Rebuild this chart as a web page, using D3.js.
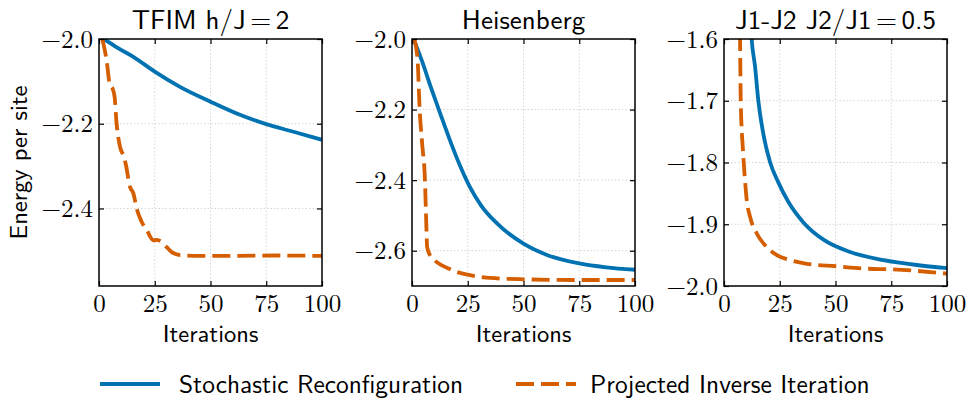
<!DOCTYPE html>
<html><head><meta charset="utf-8">
<script src="https://cdn.jsdelivr.net/npm/d3@7"></script>
<style>body{margin:0;background:#fff}svg{display:block}</style>
</head><body><svg id="c" width="969" height="398"></svg>
<script>
// ---- data ----
const titles = ["TFIM h/J\u2006=\u20062", "Heisenberg", "J1-J2 J2/J1\u2006=\u20060.5"];
const seriesNames = ["Stochastic Reconfiguration", "Projected Inverse Iteration"];
const xTicks = [0, 25, 50, 75, 100];
const yDomains = [[-2.583, -2.0], [-2.70, -2.0], [-2.0, -1.6]];
const yTicks = [[-2.0, -2.2, -2.4], [-2.0, -2.2, -2.4, -2.6], [-1.6, -1.7, -1.8, -1.9, -2.0]];

const tfimSrIter = [0, 4, 8, 15.4, 25, 36.3, 50, 63.2, 75, 87.2, 100];
const tfimSrE = [-1.994, -2.006, -2.02, -2.042, -2.077, -2.113, -2.148, -2.179, -2.201, -2.219, -2.238];
const tfimPiiIter = [1.5, 3.4, 4.9, 6, 7, 7.9, 9.4, 11.2, 12.1, 13.9, 15.4, 16.9, 19, 21.4, 24.4, 26, 28.1, 30.5, 32.6, 36.3, 45, 60, 80, 100];
const tfimPiiE = [-2.0, -2.05, -2.109, -2.116, -2.137, -2.2, -2.254, -2.278, -2.298, -2.349, -2.364, -2.40, -2.43, -2.451, -2.475, -2.474, -2.479, -2.492, -2.503, -2.51, -2.512, -2.512, -2.511, -2.512];

const heisSrIter = [0.7, 4.5, 8.2, 12.7, 17.2, 21.6, 26, 31, 38, 50, 60.5, 75, 87, 100];
const heisSrE = [-2.0, -2.063, -2.132, -2.212, -2.29, -2.36, -2.42, -2.472, -2.522, -2.58, -2.612, -2.636, -2.647, -2.654];
const heisPiiIter = [1, 2.5, 3.4, 4.6, 5.8, 6.3, 6.8, 8, 10, 13, 17, 20, 25, 35, 50, 75, 100];
const heisPiiE = [-2.0, -2.059, -2.196, -2.3, -2.4, -2.5, -2.59, -2.612, -2.627, -2.64, -2.652, -2.66, -2.668, -2.677, -2.681, -2.683, -2.683];

const j1j2SrIter = [11.6, 12.4, 13.9, 15.4, 17.6, 20.7, 24.2, 28.9, 35.6, 44.6, 56.6, 71.5, 86.5, 100];
const j1j2SrE = [-1.55, -1.6, -1.644, -1.7, -1.753, -1.8, -1.831, -1.864, -1.897, -1.925, -1.945, -1.958, -1.966, -1.971];
const j1j2PiiIter = [7, 7.2, 7.5, 8.5, 9.4, 10.2, 11.7, 14.7, 18.4, 23.7, 29.6, 37.1, 50.2, 64.1, 75.3, 100];
const j1j2PiiE = [-1.55, -1.6, -1.7, -1.78, -1.828, -1.861, -1.888, -1.915, -1.934, -1.95, -1.958, -1.964, -1.968, -1.972, -1.973, -1.98];

const srData = [[tfimSrIter, tfimSrE], [heisSrIter, heisSrE], [j1j2SrIter, j1j2SrE]];
const piiData = [[tfimPiiIter, tfimPiiE], [heisPiiIter, heisPiiE], [j1j2PiiIter, j1j2PiiE]];

// ---- style / layout ----
const BLUE = "#0072B2", ORANGE = "#D55E00";
const W = 223, H = 247, TOP = 39;
const lefts = [99, 412, 724];
const serifFont = '"Latin Modern Roman", "Liberation Serif", serif';
const sansFont = '"Latin Modern Sans", "Liberation Sans", sans-serif';
const DASH = "18,7";

const svg = d3.select("#c");
const zip = (a, b) => a.map((v, k) => [v, b[k]]);

titles.forEach((title, i) => {
  const g = svg.append("g").attr("transform", `translate(${lefts[i]},${TOP})`);
  const x = d3.scaleLinear().domain([0, 100]).range([0, W]);
  const y = d3.scaleLinear().domain(yDomains[i]).range([H, 0]);

  // grid
  const grid = g.append("g").attr("stroke", "#d6d6d6").attr("stroke-width", 1).attr("stroke-dasharray", "1.5,2");
  grid.selectAll(".gx").data(xTicks.filter(t => t > 0 && t < 100)).join("line")
    .attr("x1", d => x(d)).attr("x2", d => x(d)).attr("y1", 0).attr("y2", H);
  const [d0, d1] = yDomains[i];
  grid.selectAll(".gy").data(yTicks[i].filter(t => t > Math.min(d0, d1) + 1e-9 && t < Math.max(d0, d1) - 1e-9)).join("line")
    .attr("y1", d => y(d)).attr("y2", d => y(d)).attr("x1", 0).attr("x2", W);

  // clip
  const cid = "clip" + i;
  g.append("clipPath").attr("id", cid).append("rect").attr("width", W).attr("height", H);
  const plot = g.append("g").attr("clip-path", `url(#${cid})`);
  const line = d3.line().x(d => x(d[0])).y(d => y(d[1])).curve(d3.curveMonotoneX);

  plot.append("path").datum(zip(...srData[i])).attr("d", line)
    .attr("fill", "none").attr("stroke", BLUE).attr("stroke-width", 3.8).attr("stroke-linejoin", "round");
  plot.append("path").datum(zip(...piiData[i])).attr("d", line)
    .attr("fill", "none").attr("stroke", ORANGE).attr("stroke-width", 3.8)
    .attr("stroke-dasharray", DASH).attr("stroke-linejoin", "round");

  // axes
  const fmt = d3.format(".1f");
  const ax = (sel) => {
    sel.select(".domain").remove();
    sel.selectAll("line").attr("stroke", "#000").attr("stroke-width", 1.2);
    sel.attr("font-family", null).attr("font-size", null);
    sel.selectAll("text").style("font-family", serifFont).style("font-size", "25px").attr("fill", "#000");
  };
  g.append("g").attr("transform", `translate(0,${H})`)
    .call(d3.axisBottom(x).tickValues(xTicks).tickSizeInner(-5).tickSizeOuter(0).tickPadding(8).tickFormat(d3.format("d")))
    .call(ax);
  g.append("g")
    .call(d3.axisLeft(y).tickValues(yTicks[i]).tickSizeInner(-5).tickSizeOuter(0).tickPadding(6).tickFormat(fmt))
    .call(ax);
  g.append("g")
    .call(d3.axisTop(x).tickValues(xTicks).tickSizeInner(-5).tickSizeOuter(0).tickFormat(""))
    .call(ax);
  g.append("g").attr("transform", `translate(${W},0)`)
    .call(d3.axisRight(y).tickValues(yTicks[i]).tickSizeInner(-5).tickSizeOuter(0).tickFormat(""))
    .call(ax);

  // frame
  g.append("rect").attr("width", W).attr("height", H).attr("fill", "none")
    .attr("stroke", "#000").attr("stroke-width", 1.5);

  // title & x label
  g.append("text").attr("x", W / 2).attr("y", -10).attr("text-anchor", "middle")
    .style("font-family", sansFont).style("font-size", "27px").attr("fill", "#000").text(title);
  g.append("text").attr("x", W / 2).attr("y", 303).attr("text-anchor", "middle")
    .style("font-family", sansFont).style("font-size", "24.5px").attr("fill", "#000").text("Iterations");
});

// y label
svg.append("text").attr("transform", `translate(27,${TOP + H / 2}) rotate(-90)`)
  .attr("text-anchor", "middle").style("font-family", sansFont).style("font-size", "24.5px")
  .attr("fill", "#000").text("Energy per site");

// legend
const LY = 384;
const legendItems = [
  { x0: 100, x1: 160, tx: 179, color: BLUE, dash: null, label: seriesNames[0] },
  { x0: 516, x1: 576, tx: 590, color: ORANGE, dash: DASH, label: seriesNames[1] }
];
legendItems.forEach(it => {
  svg.append("line").attr("x1", it.x0).attr("x2", it.x1).attr("y1", LY).attr("y2", LY)
    .attr("stroke", it.color).attr("stroke-width", 3.8).attr("stroke-dasharray", it.dash);
  svg.append("text").attr("x", it.tx).attr("y", LY).attr("dy", "0.36em")
    .style("font-family", sansFont).style("font-size", "25.4px").attr("fill", "#000").text(it.label);
});
</script>
</body></html>
